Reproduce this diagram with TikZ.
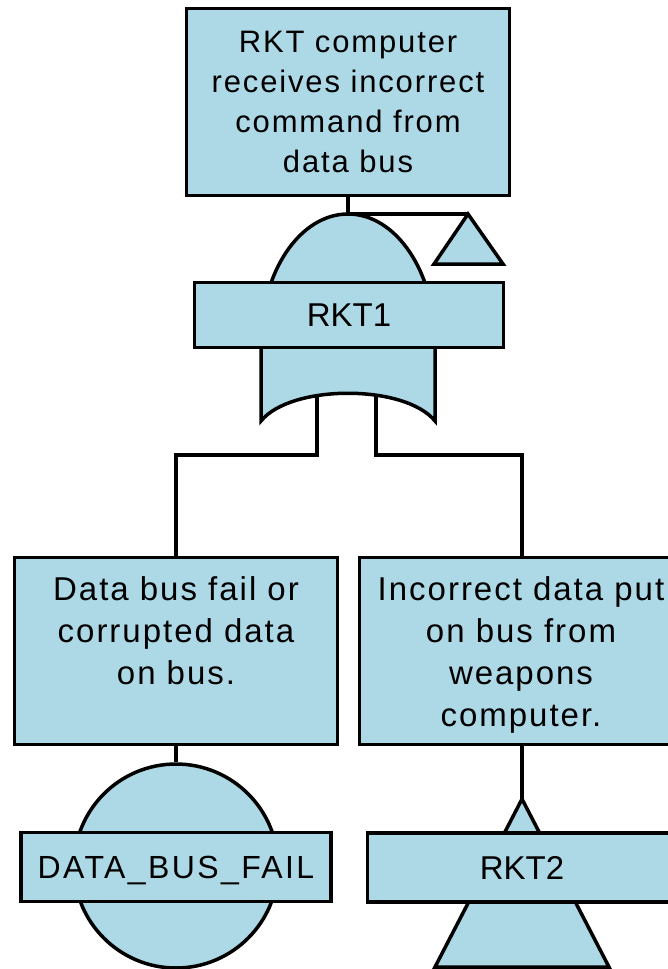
\documentclass[tikz,border=0pt]{standalone}
\usepackage{fontspec}
\setmainfont{Liberation Sans}
\newfontfamily\ftspaced{Liberation Sans}[LetterSpace=6]
\newfontfamily\ftwide{Liberation Sans}[LetterSpace=7.5]
\newfontfamily\ftplain{Liberation Sans}
\definecolor{ftblue}{HTML}{ADD8E6}
\tikzset{
  ftshape/.style={draw=black, line width=3.5pt, fill=ftblue, line join=miter},
  boxnode/.style={ftshape, rectangle, inner sep=0pt},
  wire/.style={draw=black, line width=3.5pt},
  desc/.style={font=\ftspaced\fontsize{33}{42}\selectfont, align=center, inner sep=0pt, anchor=north},
  gatelabel/.style={font=\ftplain\fontsize{33}{40}\selectfont, text height=23.5pt, text depth=0pt},
  eventlabel/.style={font=\ftwide\fontsize{32}{40}\selectfont, text height=23pt, text depth=0pt},
}
\begin{document}
\begin{tikzpicture}[x=1pt, y=-1pt]
\useasboundingbox (0,0) rectangle (668,969);
\clip (0,0) rectangle (668,969);

% top event
\node[boxnode, minimum width=323pt, minimum height=187pt] (top) at (348,102) {};
\node[desc, font=\ftspaced\fontsize{31}{40}\selectfont] (toptext) at (348,30.5)
  {RKT computer\\receives incorrect\\command from\\data bus};

% gate RKT1 with its transfer triangle
\coordinate (gapex) at (348,214);
\coordinate (gL) at (317,396);
\coordinate (gR) at (376,396);
\coordinate (trapex) at (468,214);
\draw[wire] (top.south) -- (gapex) -- (trapex);
\draw[ftshape] (trapex) -- (434,264) -- (503,264) -- cycle;
\draw[ftshape] (261,421) -- (261,343)
  arc[start angle=180, end angle=360, x radius=87, y radius=129]
  -- (435,421) .. controls (405,384) and (291,384) .. cycle;
\node[boxnode, gatelabel, minimum width=309pt, minimum height=65pt] (rkt1) at (349,315) {RKT1};

% intermediate events
\node[boxnode, minimum width=323pt, minimum height=187pt] (left) at (176,651) {};
\node[boxnode, minimum width=325pt, minimum height=187pt] (right) at (522,651) {};
\node[desc] (lefttext) at (176,576) {Data bus fail or\\corrupted data\\on bus.};
\node[desc] (righttext) at (521,576) {Incorrect data put\\on bus from\\weapons\\computer.};

\draw[wire] (gL) -- (317,455) -| (left.north);
\draw[wire] (gR) -- (376,455) -| (right.north);

% basic event
\node[ftshape, circle, minimum size=204pt, inner sep=0pt] (basic) at (176,866) {};
\draw[wire] (left.south) -- (basic.north);
\node[boxnode, eventlabel, minimum width=310pt, minimum height=69pt] (dbf) at (176,867) {DATA\_BUS\_FAIL};

% transfer in RKT2
\coordinate (tapex) at (522,799);
\draw[wire] (right.south) -- (tapex);
\draw[ftshape] (tapex) -- (609,967) -- (435,967) -- cycle;
\node[boxnode, gatelabel, minimum width=309pt, minimum height=69pt] (rkt2) at (522,867.5) {RKT2};
\end{tikzpicture}
\end{document}
